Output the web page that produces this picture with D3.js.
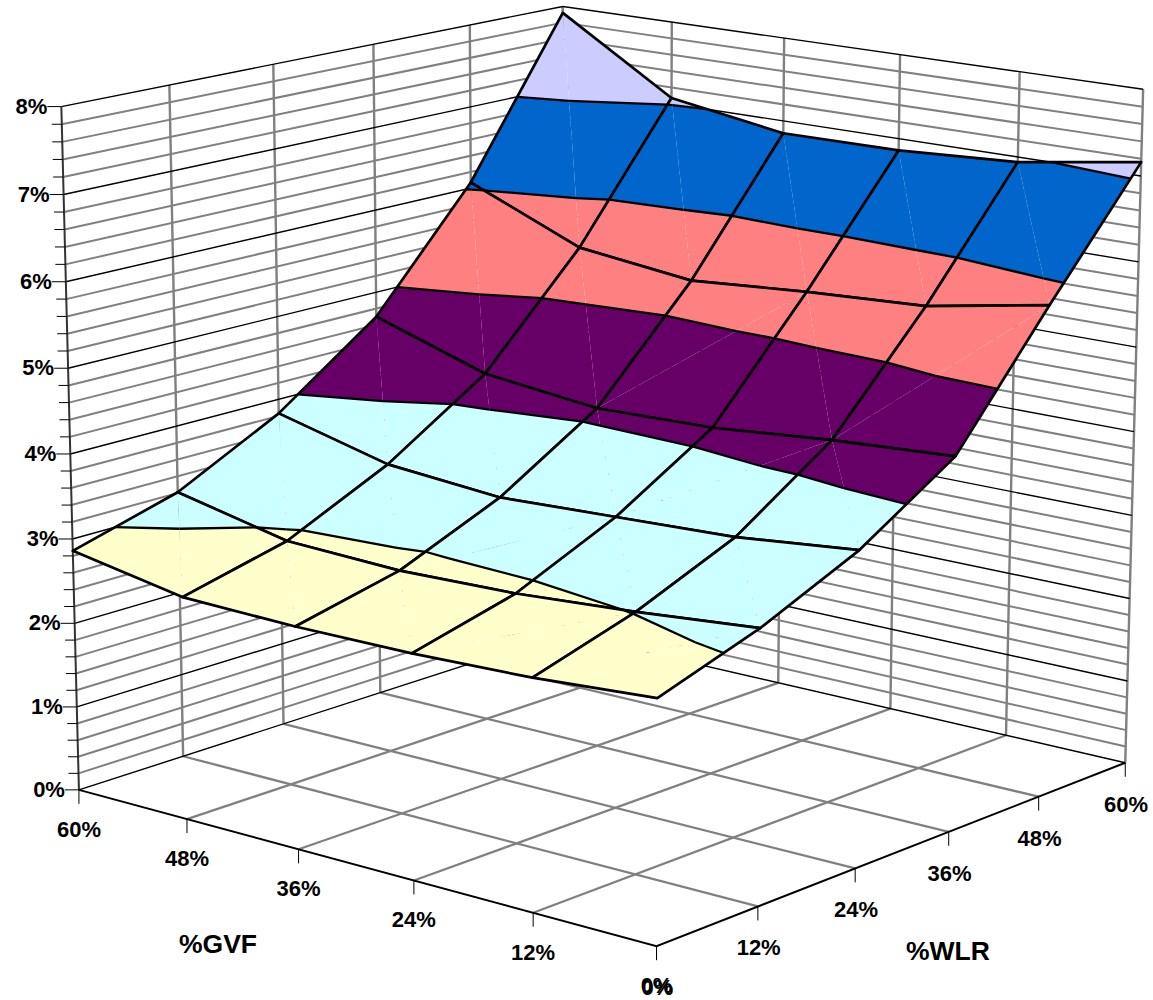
<!DOCTYPE html>
<html>
<head>
<meta charset="utf-8">
<script src="https://cdnjs.cloudflare.com/ajax/libs/d3/7.8.5/d3.min.js"></script>
<style>
  body { margin: 0; background: #fff; }
  text { font-family: "Liberation Sans", Arial, sans-serif; font-weight: bold; fill: #000; }
</style>
</head>
<body>
<svg id="chart" width="1153" height="1000"></svg>
<script>
const gvfLevels = [0, 12, 24, 36, 48, 60];
const wlrLevels = [0, 12, 24, 36, 48, 60];
const valueTicks = [0, 1, 2, 3, 4, 5, 6, 7, 8];
const minorTicks = d3.range(0, 40).map((d) => d / 5);

// one row per gvf level, one column per wlr level (in %)
const gvf0 = [2.75, 3.14, 3.65, 4.37, 5.79, 7.16];
const gvf12 = [2.65, 3.01, 3.50, 4.28, 5.53, 6.94];
const gvf24 = [2.60, 2.91, 3.44, 4.15, 5.45, 6.86];
const gvf36 = [2.59, 2.87, 3.38, 4.11, 5.34, 6.85];
const gvf48 = [2.62, 2.92, 3.49, 4.26, 5.50, 7.07];
const gvf60 = [2.86, 3.21, 3.83, 4.70, 6.07, 7.92];
const surface = [gvf0, gvf12, gvf24, gvf36, gvf48, gvf60];

// cells that excel splits along the other diagonal [gvf index, wlr index]
const crossedCells = ['0-0', '1-0', '0-3', '1-2', '2-1', '2-3'];

const bandColors = ['#ffffff', '#ffffff', '#FFFFCC', '#CCFFFF', '#660066', '#FF8080', '#0066CC', '#CCCCFF'];

const svg = d3.select('#chart');

const gvfScale = d3.scaleLinear().domain([0, 60]).range([0, 1]);
const wlrScale = d3.scaleLinear().domain([0, 60]).range([0, 1]);
const valueScale = d3.scaleLinear().domain([0, 8]).range([0, 1]);

// perspective camera, fitted to the box corners of the picture
const camera = [
  [-570.76148, 585.03553, -21.32115, 656.52960],
  [-87.86381, -104.52668, -746.25305, 946.10773],
  [0.08657, 0.10336, -0.03590, 1]
];

const project = (gvf, wlr, value) => {
  const v = [gvfScale(gvf), wlrScale(wlr), valueScale(value), 1];
  const [a, b, c] = camera.map((row) => d3.sum(row, (k, i) => k * v[i]));
  return [a / c, b / c];
};

const line = d3.line();
const path3d = (points) => line(points.map((p) => project(p.gvf, p.wlr, p.value)));

const drawLines = (data, className, stroke, strokeWidth) => {
  svg.append('g')
    .attr('class', className)
    .attr('fill', 'none')
    .attr('stroke', stroke)
    .attr('stroke-width', strokeWidth)
    .selectAll('path')
    .data(data)
    .enter()
    .append('path')
    .attr('d', path3d);
};

const leftWallLine = (value) => [{ gvf: 60, wlr: 0, value }, { gvf: 60, wlr: 60, value }];
const rightWallLine = (value) => [{ gvf: 60, wlr: 60, value }, { gvf: 0, wlr: 60, value }];

// floor
drawLines(gvfLevels.slice(1, -1).map((gvf) => [{ gvf, wlr: 0, value: 0 }, { gvf, wlr: 60, value: 0 }]), 'floor', '#808080', 2.3);
drawLines(wlrLevels.slice(1, -1).map((wlr) => [{ gvf: 0, wlr, value: 0 }, { gvf: 60, wlr, value: 0 }]), 'floor', '#808080', 2.3);

// walls
const minorOnly = minorTicks.filter((d) => d % 1 !== 0);
drawLines(minorOnly.flatMap((d) => [leftWallLine(d), rightWallLine(d)]), 'minor', '#808080', 2);
drawLines(wlrLevels.slice(1).map((wlr) => [{ gvf: 60, wlr, value: 0 }, { gvf: 60, wlr, value: 8 }]), 'walls', '#808080', 2.4);
drawLines(gvfLevels.map((gvf) => [{ gvf, wlr: 60, value: 0 }, { gvf, wlr: 60, value: 8 }]), 'walls', '#808080', 2.4);
drawLines(valueTicks.flatMap((d) => [leftWallLine(d), rightWallLine(d)]), 'major', '#000', 1.4);
drawLines([[{ gvf: 60, wlr: 0, value: 0 }, { gvf: 60, wlr: 0, value: 8 }]], 'axis', '#333', 2);
drawLines([[{ gvf: 60, wlr: 0, value: 0 }, { gvf: 0, wlr: 0, value: 0 }, { gvf: 0, wlr: 60, value: 0 }]], 'axis', '#000', 2);

// value axis ticks and labels
const tickGroup = svg.append('g').attr('stroke', '#000').attr('stroke-width', 1);
tickGroup.selectAll('line')
  .data(minorTicks.concat([8]))
  .enter()
  .append('line')
  .attr('x1', (d) => project(60, 0, d)[0] - (d % 1 === 0 ? 14 : 10))
  .attr('x2', (d) => project(60, 0, d)[0])
  .attr('y1', (d) => project(60, 0, d)[1])
  .attr('y2', (d) => project(60, 0, d)[1]);

svg.append('g')
  .selectAll('text')
  .data(valueTicks)
  .enter()
  .append('text')
  .text((d) => `${d}%`)
  .attr('font-size', 22)
  .attr('text-anchor', 'end')
  .attr('x', (d) => project(60, 0, d)[0] - 14)
  .attr('y', (d) => project(60, 0, d)[1] + 7);

// category axis ticks and labels
const catAxis = (levels, at, offset, dx) => {
  const g = svg.append('g');
  g.selectAll('line')
    .data(levels)
    .enter()
    .append('line')
    .attr('stroke', '#000')
    .attr('x1', (d) => at(d)[0])
    .attr('x2', (d) => at(d)[0])
    .attr('y1', (d) => at(d)[1])
    .attr('y2', (d) => at(d)[1] + 14);
  g.selectAll('text')
    .data(levels)
    .enter()
    .append('text')
    .text((d) => `${d}%`)
    .attr('font-size', 22)
    .attr('text-anchor', 'middle')
    .attr('x', (d) => at(d)[0] + dx)
    .attr('y', (d) => at(d)[1] + offset);
};
catAxis(gvfLevels, (d) => project(d, 0, 0), 47, 0);
catAxis(wlrLevels, (d) => project(0, d, 0), 49, 0.8);

svg.append('text').text('%GVF').attr('font-size', 26.5).attr('text-anchor', 'middle').attr('x', 218).attr('y', 953);
svg.append('text').text('%WLR').attr('font-size', 26.5).attr('text-anchor', 'middle').attr('x', 948).attr('y', 960);

// keep the part of a polygon on one side of a value level
const clip = (poly, level, keepAbove) => {
  const out = [];
  const inside = (p) => (keepAbove ? p.value >= level : p.value <= level);
  poly.forEach((p, i) => {
    const q = poly[(i + 1) % poly.length];
    if (inside(p)) out.push(p);
    if (inside(p) !== inside(q)) {
      const t = (level - p.value) / (q.value - p.value);
      out.push({ gvf: p.gvf + t * (q.gvf - p.gvf), wlr: p.wlr + t * (q.wlr - p.wlr), value: level });
    }
  });
  return out;
};

// where a level crosses a triangle
const crossing = (tri, level) => {
  const out = [];
  tri.forEach((p, i) => {
    const q = tri[(i + 1) % 3];
    if ((p.value < level) !== (q.value < level)) {
      const t = (level - p.value) / (q.value - p.value);
      out.push({ gvf: p.gvf + t * (q.gvf - p.gvf), wlr: p.wlr + t * (q.wlr - p.wlr), value: level });
    }
  });
  return out;
};

const vertex = (i, j) => ({ gvf: gvfLevels[i], wlr: wlrLevels[j], value: surface[i][j] });

// far cells first so the near ones paint over them
const cells = [];
for (let i = 0; i < gvfLevels.length - 1; i++) {
  for (let j = 0; j < wlrLevels.length - 1; j++) {
    cells.push({ i, j });
  }
}
cells.sort((a, b) => (b.i + b.j) - (a.i + a.j));

const surfaceGroup = svg.append('g').attr('class', 'surface');

for (const { i, j } of cells) {
  const a = vertex(i, j);
  const b = vertex(i + 1, j);
  const c = vertex(i + 1, j + 1);
  const d = vertex(i, j + 1);
  const tris = crossedCells.includes(`${i}-${j}`)
    ? [[c, b, d], [a, b, d]]
    : [[a, b, c], [a, c, d]];

  const cell = surfaceGroup.append('g');
  for (const tri of tris) {
    bandColors.forEach((color, band) => {
      const piece = clip(clip(tri, band, true), band + 1, false);
      if (piece.length < 3) return;
      cell.append('path')
        .attr('d', path3d(piece) + 'Z')
        .attr('fill', color);
    });
  }
  for (const tri of tris) {
    valueTicks.forEach((level) => {
      const seg = crossing(tri, level);
      if (seg.length === 2) {
        cell.append('path')
          .attr('d', path3d(seg))
          .attr('fill', 'none')
          .attr('stroke', '#000')
          .attr('stroke-width', 2.3);
      }
    });
  }
  cell.append('path')
    .attr('d', path3d([a, b, c, d]) + 'Z')
    .attr('fill', 'none')
    .attr('stroke', '#000')
    .attr('stroke-width', 2.7)
    .attr('stroke-linejoin', 'round');
}
</script>
</body>
</html>
